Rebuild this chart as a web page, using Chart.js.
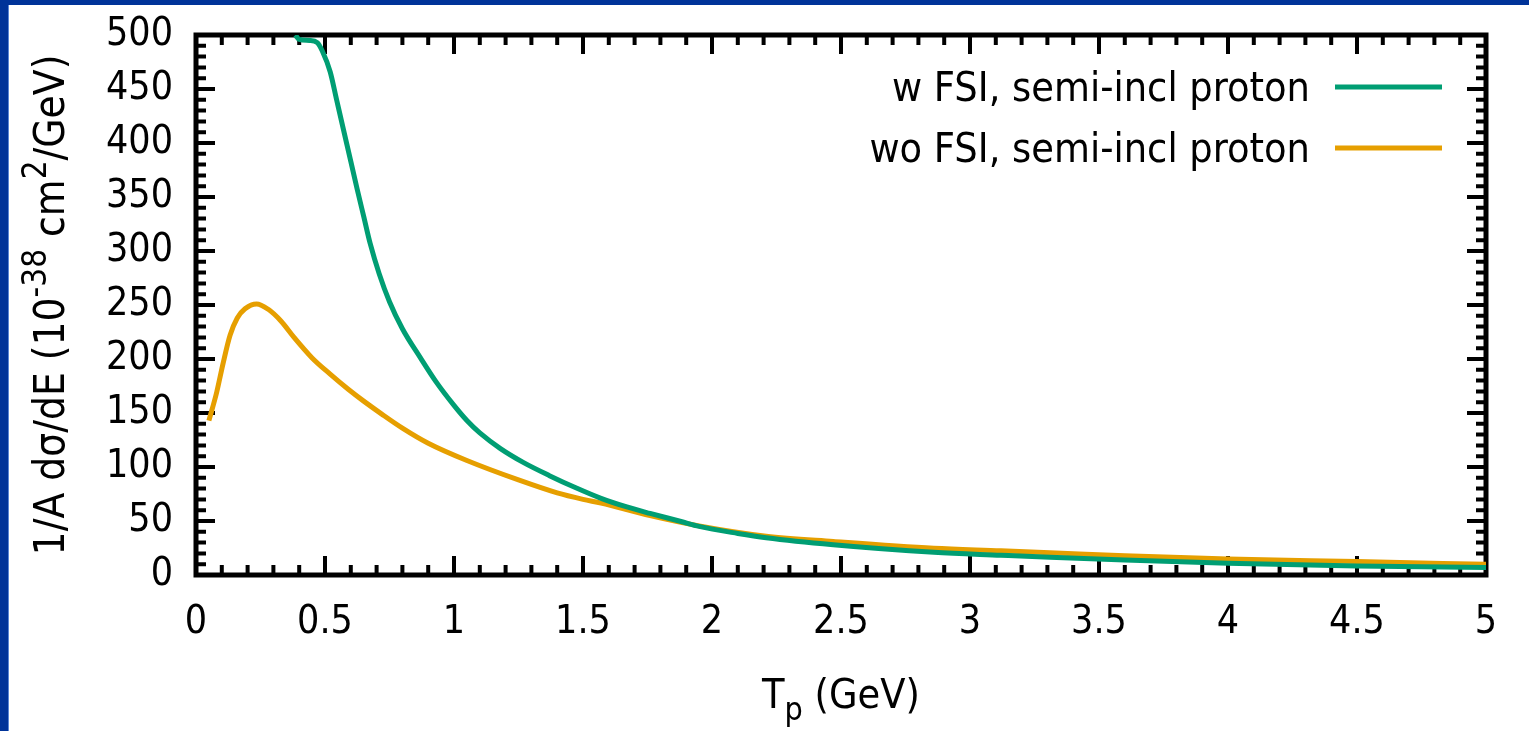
<!DOCTYPE html>
<html>
<head>
<meta charset="utf-8">
<title>Semi-inclusive proton spectrum</title>
<script src="https://cdn.jsdelivr.net/npm/chart.js@4.4.1/dist/chart.umd.min.js"></script>
<style>
  html, body { margin: 0; padding: 0; }
  body { background: #003399; width: 1529px; height: 731px; overflow: hidden; position: relative; }
  #panel { position: absolute; left: 8px; top: 5px; width: 1521px; height: 726px; background: #fff; border-left: 1px solid #5a86d6; }
  #chart { display: block; }
</style>
</head>
<body>
<div id="panel"><canvas id="chart" width="1520" height="726"></canvas></div>
<script>
// proton kinetic energy T_p (GeV) and 1/A dsigma/dE (10^-38 cm^2/GeV)
var tWithFsi = [0.385, 0.40, 0.44, 0.47, 0.49, 0.52, 0.545, 0.57, 0.60, 0.625, 0.65, 0.675, 0.71, 0.75, 0.80,
    0.87, 0.93, 1.00, 1.05, 1.10, 1.18, 1.27, 1.37, 1.47, 1.57, 1.67, 1.76, 1.88, 1.95, 2.10, 2.21, 2.47,
    2.86, 3.12, 3.31, 3.60, 4.00, 4.50, 5.00];
var xsWithFsi = [500, 496, 495, 493, 485, 466, 440, 414, 383, 357, 332, 307, 279, 253, 228,
    201, 179, 157, 143, 131.5, 117, 104, 92, 81, 71, 63, 57, 49.5, 45, 38.5, 34.5, 28,
    21, 18.3, 16.4, 13.8, 10.8, 8.3, 7];

var tNoFsi = [0.05, 0.08, 0.105, 0.132, 0.16, 0.19, 0.235, 0.28, 0.33, 0.38, 0.45, 0.52, 0.59,
    0.65, 0.72, 0.80, 0.90, 1.05, 1.25, 1.40, 1.50, 1.57, 1.76, 1.95, 2.21, 2.47, 2.86, 3.12, 3.31,
    3.60, 4.00, 4.50, 5.00];
var xsNoFsi = [143, 169, 196, 222, 238, 246.5, 251, 246, 235, 220, 201, 186, 172,
    161, 149, 136, 122, 106, 88, 76, 70, 66.5, 55, 45.5, 36, 31, 24.7, 22.5, 20.7,
    17.8, 14.8, 12.4, 9.9];

var seriesNames = ['w FSI, semi-incl proton', 'wo FSI, semi-incl proton'];
var seriesColors = ['#009e73', '#e69f00'];

var xMax = 5, xStep = 0.5, xMinor = 0.1;
var yMax = 500, yStep = 50, yMinor = 10;

var FONT = '"DejaVu Sans Condensed", "DejaVu Sans", sans-serif';

function pairs(xs, ys) {
    var out = [];
    for (var i = 0; i < xs.length; i++) out.push({ x: xs[i], y: ys[i] });
    return out;
}

// text with super/subscripts: parts = [[text, 'n'|'sup'|'sub'], ...]
function partFont(size, mode) {
    var s = mode == 'n' ? size : Math.round(size * 0.78);
    return s + 'px ' + FONT;
}
function richWidth(ctx, parts, size) {
    var w = 0;
    for (var i = 0; i < parts.length; i++) {
        ctx.font = partFont(size, parts[i][1]);
        w += ctx.measureText(parts[i][0]).width;
    }
    return w;
}
function drawRich(ctx, parts, x, y, size) {
    var cx = x - richWidth(ctx, parts, size) / 2;
    ctx.textAlign = 'left';
    ctx.textBaseline = 'alphabetic';
    for (var i = 0; i < parts.length; i++) {
        var mode = parts[i][1];
        var dy = mode == 'sup' ? -size * 0.42 : (mode == 'sub' ? size * 0.3 : 0);
        ctx.font = partFont(size, mode);
        ctx.fillText(parts[i][0], cx, y + dy);
        cx += ctx.measureText(parts[i][0]).width;
    }
}

// border with inward ticks on all four sides, gnuplot style
var gnuFrame = {
    id: 'gnuFrame',
    beforeDatasetsDraw: function(chart) {
        var ctx = chart.ctx, a = chart.chartArea;
        var xs = chart.scales.x, ys = chart.scales.y;
        ctx.save();
        ctx.strokeStyle = '#000';
        ctx.lineWidth = 4;
        ctx.beginPath();
        var nx = Math.round(xMax / xMinor);
        for (var i = 0; i <= nx; i++) {
            var px = xs.getPixelForValue(i * xMinor);
            var len = (i % Math.round(xStep / xMinor) == 0) ? 19 : 10;
            ctx.moveTo(px, a.bottom); ctx.lineTo(px, a.bottom - len);
            ctx.moveTo(px, a.top); ctx.lineTo(px, a.top + len);
        }
        var ny = Math.round(yMax / yMinor);
        for (var j = 0; j <= ny; j++) {
            var py = ys.getPixelForValue(j * yMinor);
            var len2 = (j % Math.round(yStep / yMinor) == 0) ? 19 : 10;
            ctx.moveTo(a.left, py); ctx.lineTo(a.left + len2, py);
            ctx.moveTo(a.right, py); ctx.lineTo(a.right - len2, py);
        }
        ctx.stroke();
        ctx.lineWidth = 5;
        ctx.strokeRect(a.left, a.top, a.right - a.left, a.bottom - a.top);
        ctx.restore();
    }
};

// axis titles and key
var gnuText = {
    id: 'gnuText',
    afterDraw: function(chart) {
        var ctx = chart.ctx, a = chart.chartArea;
        ctx.save();
        ctx.fillStyle = '#000';

        drawRich(ctx, [['T', 'n'], ['p', 'sub'], [' (GeV)', 'n']], (a.left + a.right) / 2, 703, 41);

        ctx.save();
        ctx.translate(55, (a.top + a.bottom) / 2);
        ctx.rotate(-Math.PI / 2);
        drawRich(ctx, [['1/A d\u03c3/dE (10', 'n'], ['-38', 'sup'], [' cm', 'n'], ['2', 'sup'], ['/GeV)', 'n']], 0, 0, 42);
        ctx.restore();

        var sets = chart.data.datasets;
        for (var k = 0; k < sets.length; k++) {
            var ly = 82 + k * 61;
            ctx.font = '41px ' + FONT;
            ctx.textAlign = 'right';
            ctx.textBaseline = 'alphabetic';
            ctx.fillText(sets[k].label, 1301, ly + 14);
            ctx.strokeStyle = sets[k].borderColor;
            ctx.lineWidth = 5;
            ctx.beginPath();
            ctx.moveTo(1326, ly);
            ctx.lineTo(1433, ly);
            ctx.stroke();
        }
        ctx.restore();
    }
};

var data = {
    datasets: [{
        label: seriesNames[0],
        data: pairs(tWithFsi, xsWithFsi),
        borderColor: seriesColors[0]
    }, {
        label: seriesNames[1],
        data: pairs(tNoFsi, xsNoFsi),
        borderColor: seriesColors[1]
    }]
};

var config = {
    type: 'line',
    data: data,
    options: {
        responsive: false,
        animation: false,
        devicePixelRatio: 1,
        layout: { padding: { left: 0, top: 30, right: 43, bottom: 0 } },
        elements: {
            point: { radius: 0 },
            line: { borderWidth: 5, cubicInterpolationMode: 'monotone', fill: false }
        },
        plugins: {
            legend: { display: false },
            tooltip: { enabled: false }
        },
        scales: {
            x: {
                type: 'linear',
                min: 0,
                max: xMax,
                grid: { display: false, drawTicks: false },
                border: { display: false },
                ticks: {
                    stepSize: xStep,
                    autoSkip: false,
                    maxRotation: 0,
                    padding: 24,
                    color: '#000',
                    font: { family: FONT, size: 39 },
                    callback: function(v) { return String(Math.round(v * 10) / 10); }
                },
                afterFit: function(s) {
                    s.height = 156;
                    s.paddingLeft = 0;
                    s.paddingRight = 0;
                }
            },
            y: {
                type: 'linear',
                min: 0,
                max: yMax,
                grid: { display: false, drawTicks: false },
                border: { display: false },
                ticks: {
                    stepSize: yStep,
                    padding: 23,
                    color: '#000',
                    font: { family: FONT, size: 39 }
                },
                afterFit: function(s) {
                    s.width = 187;
                    s.paddingTop = 0;
                    s.paddingBottom = 0;
                }
            }
        }
    },
    plugins: [gnuFrame, gnuText]
};

var myChart = new Chart(document.getElementById('chart'), config);
</script>
</body>
</html>
